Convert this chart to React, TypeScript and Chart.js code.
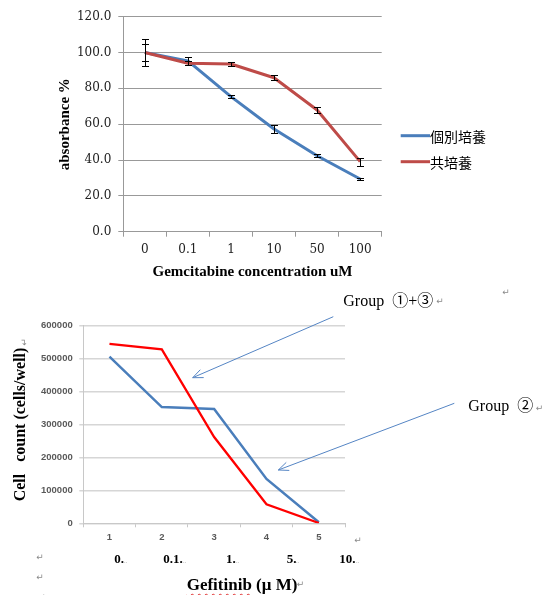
import React, { useEffect, useRef } from 'react';
import { Chart, registerables } from 'chart.js';

Chart.register(...registerables);

// ---- Top chart (Gemcitabine) ----
const gemCategories = ['0', '0.1', '1', '10', '50', '100'];
const gemSeriesLabels = ['個別培養', '共培養'];
const individualValues = [100, 95.3, 75.4, 57.3, 42.4, 29.4];
const individualErrors = [7.5, 2.2, 1.0, 2.1, 0.8, 0.5];
const cocultureValues = [100, 94.0, 93.6, 85.9, 67.9, 39.1];
const cocultureErrors = [5.0, 1.0, 1.2, 1.4, 1.7, 2.2];
const gemYMin = 0;
const gemYMax = 120;
const gemYStep = 20;
const gemXTitle = 'Gemcitabine concentration uM';
const gemYTitle = 'absorbance %';

// ---- Bottom chart (Gefitinib) ----
const gefCategories = ['1', '2', '3', '4', '5'];
const gefSeriesLabels = ['Group ②', 'Group ①+③'];
const group2Values = [506000, 353000, 347000, 134500, 3000];
const group13Values = [545000, 528000, 262000, 57700, 1000];
const gefYMin = 0;
const gefYMax = 600000;
const gefYStep = 100000;
const gefYTitle = 'Cell   count (cells/well)';
const gefDoseLabels = ['0.', '0.1.', '1.', '5.', '10.'];
const gefXTitle = 'Gefitinib';
const gefXUnit = ' (μ M)';

const errorBarPlugin = {
  id: 'errorBars',
  afterDatasetsDraw(chart: any) {
    const { ctx } = chart;
    const yScale = chart.scales.y;
    chart.data.datasets.forEach((ds: any, i: number) => {
      const errs = ds.errors;
      if (!errs) return;
      const meta = chart.getDatasetMeta(i);
      meta.data.forEach((pt: any, j: number) => {
        const v = ds.data[j];
        const e = errs[j];
        const x = Math.round(pt.x) + 0.5;
        const yt = Math.round(yScale.getPixelForValue(v + e)) + 0.5;
        const yb = Math.round(yScale.getPixelForValue(v - e)) + 0.5;
        ctx.save();
        ctx.strokeStyle = '#000';
        ctx.lineWidth = 1;
        ctx.beginPath();
        ctx.moveTo(x, yt);
        ctx.lineTo(x, yb);
        ctx.moveTo(x - 3.5, yt);
        ctx.lineTo(x + 3.5, yt);
        ctx.moveTo(x - 3.5, yb);
        ctx.lineTo(x + 3.5, yb);
        ctx.stroke();
        ctx.restore();
      });
    });
  },
};

const sideLegendPlugin = {
  id: 'sideLegend',
  afterDraw(chart: any, _args: any, opts: any) {
    if (!opts || !opts.display) return;
    const { ctx } = chart;
    chart.data.datasets.forEach((ds: any, i: number) => {
      const y = opts.top + i * opts.spacing;
      ctx.save();
      ctx.strokeStyle = ds.borderColor;
      ctx.lineWidth = 3;
      ctx.beginPath();
      ctx.moveTo(opts.left, y);
      ctx.lineTo(opts.left + opts.lineLength, y);
      ctx.stroke();
      ctx.fillStyle = '#000';
      ctx.font = opts.font;
      ctx.textBaseline = 'middle';
      ctx.textAlign = 'left';
      ctx.fillText(ds.label, opts.left + opts.lineLength, y + 1);
      ctx.restore();
    });
  },
};

const serif = '"Liberation Serif", "Times New Roman", serif';
const cjkSerif = '"Liberation Serif", "Noto Sans CJK JP", serif';

function Txt(props: { x: number; y: number; size: number; bold?: boolean; color?: string; family?: string; children: any; style?: any }) {
  const { x, y, size, bold, color, family, children, style } = props;
  return (
    <span
      style={{
        position: 'absolute',
        left: x,
        top: y - size * 0.84,
        fontSize: size,
        lineHeight: `${size}px`,
        fontWeight: bold ? 'bold' : 'normal',
        color: color || '#000',
        fontFamily: family || serif,
        whiteSpace: 'pre',
        ...style,
      }}
    >
      {children}
    </span>
  );
}

function Ret(props: { cx: number; cy: number; rotate?: number }) {
  return (
    <span
      style={{
        position: 'absolute',
        left: props.cx - 4,
        top: props.cy - 5,
        width: 8,
        height: 10,
        fontSize: 9,
        lineHeight: '10px',
        textAlign: 'center',
        color: '#8a8a8a',
        fontFamily: '"DejaVu Sans", sans-serif',
        transform: props.rotate ? `rotate(${props.rotate}deg)` : undefined,
      }}
    >
      ↵
    </span>
  );
}

const arrows = [
  { x1: 333.3, y1: 316.7, x2: 192.7, y2: 377.7 },
  { x1: 454.3, y1: 403.3, x2: 278.3, y2: 470 },
];

function arrowHead(a: { x1: number; y1: number; x2: number; y2: number }) {
  const ang = Math.atan2(a.y1 - a.y2, a.x1 - a.x2);
  const len = 11;
  const spread = 0.4;
  const p1 = [a.x2 + len * Math.cos(ang + spread), a.y2 + len * Math.sin(ang + spread)];
  const p2 = [a.x2 + len * Math.cos(ang - spread), a.y2 + len * Math.sin(ang - spread)];
  return `M${p1[0]},${p1[1]} L${a.x2},${a.y2} L${p2[0]},${p2[1]}`;
}

export default function App() {
  const topRef = useRef<HTMLCanvasElement | null>(null);
  const botRef = useRef<HTMLCanvasElement | null>(null);

  useEffect(() => {
    if (!topRef.current || !botRef.current) return;

    const topChart = new Chart(topRef.current, {
      type: 'line',
      data: {
        labels: gemCategories,
        datasets: [
          {
            label: gemSeriesLabels[0],
            data: individualValues,
            errors: individualErrors,
            borderColor: '#4A7EBB',
            backgroundColor: '#4A7EBB',
            borderWidth: 3,
            pointRadius: 0,
            borderJoinStyle: 'round',
            order: 1,
          } as any,
          {
            label: gemSeriesLabels[1],
            data: cocultureValues,
            errors: cocultureErrors,
            borderColor: '#BE4B48',
            backgroundColor: '#BE4B48',
            borderWidth: 3,
            pointRadius: 0,
            borderJoinStyle: 'round',
            order: 0,
          } as any,
        ],
      },
      options: {
        animation: false,
        responsive: false,
        events: [],
        layout: { padding: { left: 56, top: 16.7, right: 161.3, bottom: 4.3 } },
        plugins: {
          legend: { display: false },
          tooltip: { enabled: false },
          sideLegend: {
            display: true,
            left: 400.7,
            lineLength: 29.3,
            top: 135.7,
            spacing: 26,
            font: '14px "Noto Sans CJK JP", sans-serif',
          },
        } as any,
        scales: {
          x: {
            type: 'category',
            offset: true,
            afterFit: (s: any) => {
              s.height = 49;
            },
            grid: { display: true, drawOnChartArea: false, offset: true, tickLength: 5, color: '#999' },
            border: { display: true, color: '#999' },
            ticks: { color: '#222', padding: 6, font: { family: '"DejaVu Serif", serif', size: 12 } },
            title: {
              display: true,
              text: gemXTitle,
              color: '#000',
              padding: 0,
              font: { family: serif, size: 15, weight: 'bold' },
            },
          },
          y: {
            min: gemYMin,
            max: gemYMax,
            afterFit: (s: any) => {
              s.width = 67.3;
            },
            grid: { color: '#999', tickLength: 5 },
            border: { display: true, color: '#999' },
            ticks: {
              stepSize: gemYStep,
              color: '#222',
              padding: 7,
              font: { family: '"DejaVu Serif", serif', size: 12 },
              callback: (v: any) => Number(v).toFixed(1),
            },
            title: {
              display: true,
              text: gemYTitle,
              color: '#000',
              padding: 0,
              font: { family: serif, size: 15, weight: 'bold' },
            },
          },
        },
      },
      plugins: [errorBarPlugin, sideLegendPlugin],
    } as any);

    const botChart = new Chart(botRef.current, {
      type: 'line',
      data: {
        labels: gefCategories,
        datasets: [
          {
            label: gefSeriesLabels[0],
            data: group2Values,
            borderColor: '#4A7EBB',
            backgroundColor: '#4A7EBB',
            borderWidth: 2.5,
            pointRadius: 0,
            order: 1,
          },
          {
            label: gefSeriesLabels[1],
            data: group13Values,
            borderColor: '#FF0000',
            backgroundColor: '#FF0000',
            borderWidth: 2.3,
            pointRadius: 0,
            order: 0,
          },
        ],
      },
      options: {
        animation: false,
        responsive: false,
        events: [],
        layout: { padding: { left: 10.9, top: 25.7, right: 35, bottom: 0 } },
        plugins: { legend: { display: false }, tooltip: { enabled: false } },
        scales: {
          x: {
            type: 'category',
            offset: true,
            afterFit: (s: any) => {
              s.height = 26.7;
            },
            grid: { display: true, drawOnChartArea: false, offset: true, tickLength: 4, color: '#c8c8c8' },
            border: { display: true, color: '#c8c8c8' },
            ticks: {
              color: '#595959',
              padding: 4.7,
              font: { family: '"Liberation Sans", Arial, sans-serif', size: 9.5, weight: 'bold' },
            },
          },
          y: {
            min: gefYMin,
            max: gefYMax,
            afterFit: (s: any) => {
              s.width = 72.4;
            },
            grid: { color: '#d6d6d6', lineWidth: 1.5, tickLength: 4 },
            border: { display: true, color: '#c8c8c8' },
            ticks: {
              stepSize: gefYStep,
              color: '#595959',
              padding: 6.6,
              font: { family: '"Liberation Sans", Arial, sans-serif', size: 9.5, weight: 'bold' },
              callback: (v: any) => String(v),
            },
            title: {
              display: true,
              text: gefYTitle,
              color: '#000',
              padding: 0,
              font: { family: serif, size: 16, weight: 'bold' },
            },
          },
        },
      },
    } as any);

    return () => {
      topChart.destroy();
      botChart.destroy();
    };
  }, []);

  const doseX = [114.3, 163.3, 226, 286.7, 339.3];

  return (
    <div
      style={{
        position: 'absolute',
        left: 0,
        top: 0,
        width: 543,
        height: 595,
        overflow: 'hidden',
        background: '#fff',
      }}
    >
      <canvas
        ref={topRef}
        width={543}
        height={285}
        style={{ position: 'absolute', left: 0, top: 0, width: 543, height: 285 }}
      />
      <canvas
        ref={botRef}
        width={380}
        height={250}
        style={{ position: 'absolute', left: 0, top: 300, width: 380, height: 250 }}
      />
      <svg
        width={543}
        height={595}
        style={{ position: 'absolute', left: 0, top: 0, pointerEvents: 'none' }}
      >
        {arrows.map((a, i) => (
          <g key={i} stroke="#5585c4" strokeWidth={1} fill="none">
            <line x1={a.x1} y1={a.y1} x2={a.x2} y2={a.y2} />
            <path d={arrowHead(a)} />
          </g>
        ))}
      </svg>

      <Txt x={343.3} y={306} size={16} family={cjkSerif}>
        {'Group  ①+③'}
      </Txt>
      <Txt x={468.3} y={411.7} size={16} family={cjkSerif}>
        {'Group  ②'}
      </Txt>

      {gefDoseLabels.map((t, i) => (
        <Txt key={i} x={doseX[i]} y={563} size={13} bold>
          {t}
          <span style={{ fontSize: 6, color: '#999', fontWeight: 'normal' }}>‥</span>
        </Txt>
      ))}

      <Txt x={186.7} y={590} size={17} bold>
        <span
          style={{
            textDecorationLine: 'underline',
            textDecorationStyle: 'wavy',
            textDecorationColor: '#e03030',
            textDecorationThickness: '1px',
            textUnderlineOffset: '3px',
          }}
        >
          {gefXTitle}
        </span>
        {gefXUnit}
      </Txt>

      <Ret cx={440} cy={301} />
      <Ret cx={506} cy={292} />
      <Ret cx={539.5} cy={408} />
      <Ret cx={358} cy={540} />
      <Ret cx={40} cy={557} />
      <Ret cx={40} cy={577} />
      <Ret cx={42} cy={597} />
      <Ret cx={300.5} cy={584} />
      <Ret cx={23.5} cy={342} rotate={-90} />
    </div>
  );
}
